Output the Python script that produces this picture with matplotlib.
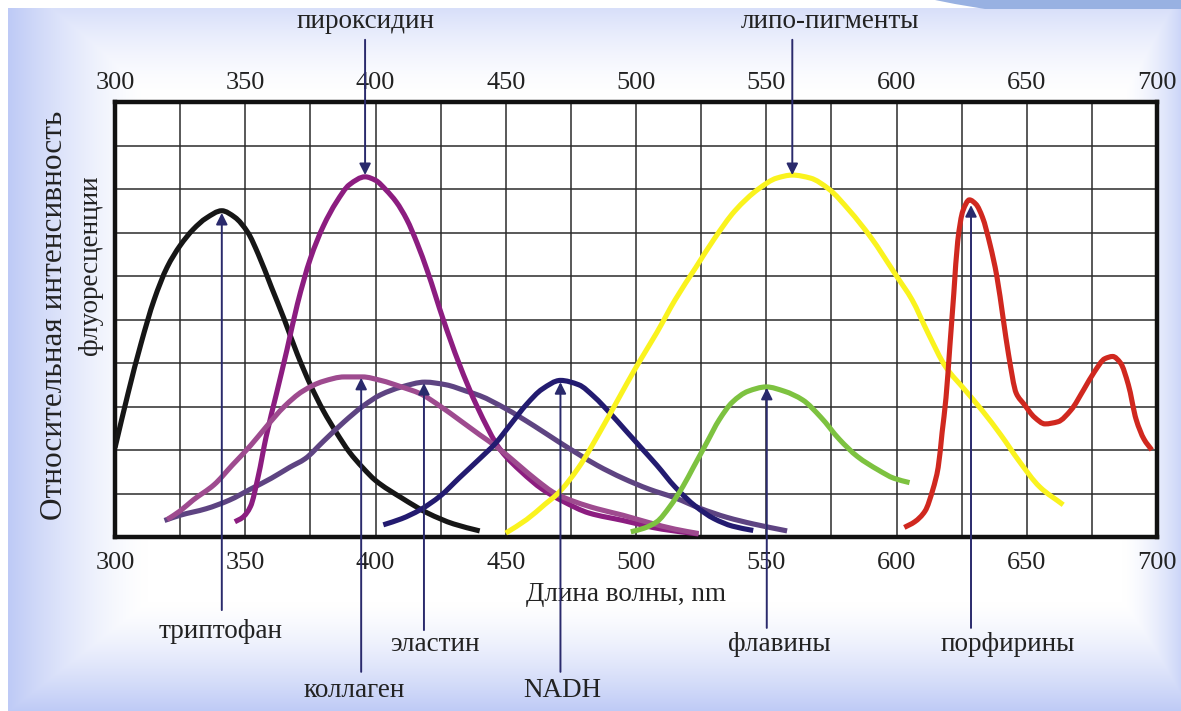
import numpy as np
import matplotlib
matplotlib.use("Agg")
import matplotlib.pyplot as plt
from matplotlib.patches import Polygon, PathPatch
from matplotlib.path import Path

plt.rcParams['font.family'] = ['Liberation Serif', 'DejaVu Serif']

# ---------------- data (wavelength nm, relative intensity in grid units) ----------------
trp_nm = [300, 305, 310, 315, 320, 325, 330, 335, 341, 346, 351, 355, 360, 365, 370,
          375, 380, 385, 390, 395, 400, 410, 420, 430, 440]
trp_val = [2.05, 3.3, 4.45, 5.45, 6.2, 6.7, 7.07, 7.33, 7.5, 7.35, 7.0, 6.5, 5.75, 5.0, 4.2,
           3.5, 2.9, 2.4, 1.95, 1.6, 1.3, 0.9, 0.55, 0.3, 0.14]

pyr_nm = [346, 349, 352, 355, 358, 362, 366, 370, 375, 380, 385, 390, 396, 400, 404, 408,
          412, 416, 420, 426, 432, 439, 448, 456, 464, 472, 482, 495, 510, 524]
pyr_val = [0.35, 0.45, 0.7, 1.4, 2.3, 3.3, 4.3, 5.35, 6.4, 7.15, 7.7, 8.1, 8.28, 8.2, 7.98, 7.7,
           7.3, 6.75, 6.1, 5.0, 4.0, 3.0, 2.0, 1.5, 1.1, 0.82, 0.55, 0.38, 0.18, 0.07]

col_nm = [320, 325, 330, 338, 345, 352, 358, 365, 372, 380, 388, 395, 402, 410, 417, 425,
          432, 440, 447, 455, 462, 469, 477, 485, 495, 505, 515, 524]
col_val = [0.4, 0.6, 0.85, 1.2, 1.65, 2.1, 2.53, 3.0, 3.35, 3.58, 3.68, 3.68, 3.6, 3.45, 3.3, 3.0,
           2.7, 2.35, 2.05, 1.65, 1.3, 1.0, 0.8, 0.65, 0.5, 0.33, 0.18, 0.08]

ela_nm = [319, 325, 335, 344, 352, 360, 367, 373, 380, 388, 395, 402, 410, 419, 427, 435,
          440, 450, 461, 470, 478, 485, 495, 505, 515, 525, 535, 545, 558]
ela_val = [0.38, 0.5, 0.65, 0.85, 1.1, 1.35, 1.6, 1.8, 2.2, 2.65, 3.0, 3.27, 3.45, 3.56, 3.5, 3.35,
           3.25, 2.95, 2.55, 2.2, 1.9, 1.65, 1.35, 1.1, 0.9, 0.65, 0.45, 0.3, 0.14]

nadh_nm = [403, 410, 417, 425, 432, 440, 446, 452, 458, 464, 471, 478, 484, 490, 496, 502,
           508, 515, 523, 530, 537, 545]
nadh_val = [0.28, 0.42, 0.62, 0.95, 1.35, 1.8, 2.15, 2.6, 3.05, 3.4, 3.6, 3.5, 3.22, 2.85, 2.45, 2.05,
            1.65, 1.15, 0.7, 0.42, 0.25, 0.15]

lip_nm = [450, 458, 465, 470, 478, 486, 493, 500, 508, 515, 523, 530, 538, 547, 554, 560,
          567, 574, 582, 590, 600, 606, 612, 619, 626, 633, 640, 647, 655, 664]
lip_val = [0.09, 0.4, 0.75, 1.0, 1.6, 2.4, 3.15, 3.9, 4.7, 5.45, 6.2, 6.85, 7.5, 8.0, 8.25, 8.32,
           8.25, 8.0, 7.5, 6.9, 6.0, 5.45, 4.7, 3.9, 3.4, 2.9, 2.35, 1.75, 1.15, 0.74]

fla_nm = [498, 503, 508, 513, 518, 522, 527, 532, 537, 543, 550, 557, 564, 571, 578, 585,
          593, 599, 605]
fla_val = [0.12, 0.2, 0.35, 0.7, 1.16, 1.6, 2.15, 2.7, 3.1, 3.35, 3.45, 3.35, 3.15, 2.75, 2.25, 1.85,
           1.54, 1.35, 1.25]

por_nm = [603, 607, 611, 614, 616, 617.5, 619, 620.5, 622, 623.5, 625.5, 628, 630.5, 633, 636,
          638.5, 641, 643, 646, 649, 653, 657, 662, 667, 672, 676, 680, 683, 686, 689, 692,
          695, 698]
por_val = [0.22, 0.35, 0.6, 1.1, 1.6, 2.4, 3.2, 4.4, 5.6, 6.8, 7.5, 7.75, 7.65, 7.35, 6.7,
           6.0, 5.0, 4.2, 3.3, 3.05, 2.75, 2.6, 2.65, 2.92, 3.4, 3.8, 4.1, 4.15, 4.0, 3.5, 2.7,
           2.25, 2.0]

x_ticks = [300, 350, 400, 450, 500, 550, 600, 650, 700]

# labels: (text, arrow x nm, arrow tail y, arrow tip y, text x nm, text y)
labels_below = [
    ("триптофан", 341, -1.68, 7.45, 340.7, -2.18),
    ("коллаген", 394.5, -3.1, 3.66, 392, -3.52),
    ("эластин", 418.6, -2.14, 3.54, 422.8, -2.48),
    ("NADH", 471, -3.1, 3.56, 471.6, -3.52),
    ("флавины", 550.2, -2.09, 3.43, 555, -2.48),
    ("порфирины", 628.6, -2.09, 7.63, 642.8, -2.48),
]
labels_above = [
    ("пироксидин", 396, 11.43, 8.32, 396, 11.84),
    ("липо-пигменты", 560, 11.43, 8.32, 574.5, 11.84),
]


def smooth_path(xs, ys):
    """Monotone cubic Hermite curve through the read points, as Bezier segments."""
    x = np.asarray(xs, float)
    y = np.asarray(ys, float)
    h = np.diff(x)
    d = np.diff(y) / h
    n = len(x)
    m = np.zeros(n)
    m[0], m[-1] = d[0], d[-1]
    for i in range(1, n - 1):
        if d[i - 1] * d[i] <= 0:
            m[i] = 0.0
        else:
            w1 = 2 * h[i] + h[i - 1]
            w2 = h[i] + 2 * h[i - 1]
            m[i] = (w1 + w2) / (w1 / d[i - 1] + w2 / d[i])
    verts = [(x[0], y[0])]
    codes = [Path.MOVETO]
    for i in range(n - 1):
        verts += [(x[i] + h[i] / 3, y[i] + m[i] * h[i] / 3),
                  (x[i + 1] - h[i] / 3, y[i + 1] - m[i + 1] * h[i] / 3),
                  (x[i + 1], y[i + 1])]
        codes += [Path.CURVE4] * 3
    return Path(verts, codes)


# ---------------- figure & background ----------------
W, H = 1181, 711
fig = plt.figure(figsize=(W / 100, H / 100), dpi=100)

bg = fig.add_axes([0, 0, 1, 1])
bg.set_axis_off()
xx, yy = np.meshgrid(np.arange(W), np.arange(H))
wl = np.clip(1 - (xx - 8) / 140.0, 0, 1) ** 1.4
wr = np.clip(1 - (W - xx) / 60.0, 0, 1) ** 1.6 * 0.8
wt = np.clip(1 - (yy - 8) / 90.0, 0, 1) ** 1.6 * 0.6
wb = np.clip(1 - (H - yy) / 110.0, 0, 1) ** 1.4
w = np.maximum.reduce([wl, wr, wt, wb])
blue = np.array([190, 202, 246]) / 255.0
img = (1 - w[..., None]) * 1.0 + w[..., None] * blue[None, None, :]
mask = (xx < 8) | (yy < 8)
img[mask] = 1.0
bg.imshow(img, extent=[0, W, H, 0], aspect='auto', interpolation='bilinear')
bg.set_xlim(0, W)
bg.set_ylim(H, 0)
swoosh = Polygon([(935, 0), (W, 0), (W, 9), (985, 9), (955, 4)], closed=True,
                 facecolor='#98B1E2', edgecolor='none')
bg.add_patch(swoosh)

# ---------------- main axes ----------------
left, right, top, bottom = 115, 1157, 102, 537
ax = fig.add_axes([left / W, 1 - bottom / H, (right - left) / W, (bottom - top) / H])
ax.set_facecolor('white')
ax.set_xlim(300, 700)
ax.set_ylim(0, 10)

ax.set_xticks(x_ticks)
ax.set_xticks(np.arange(325, 700, 50), minor=True)
ax.set_yticks(np.arange(0, 11, 1))
ax.set_yticklabels([])
ax.tick_params(axis='both', which='both', length=0)
ax.tick_params(axis='x', labelsize=19, pad=11, colors='#222222')
ax.grid(True, which='both', axis='x', color='#2b2b2b', linewidth=1.1)
ax.grid(True, which='major', axis='y', color='#2b2b2b', linewidth=1.1)
ax.set_axisbelow(True)
for s in ax.spines.values():
    s.set_linewidth(3.2)
    s.set_color('#111111')

sec = ax.secondary_xaxis('top')
sec.set_xticks(x_ticks)
sec.tick_params(length=0, labelsize=19, pad=6, colors='#222222')
sec.spines['top'].set_visible(False)

lw = 3.7
series = [
    (trp_nm, trp_val, '#161616'),
    (ela_nm, ela_val, '#5E4482'),
    (pyr_nm, pyr_val, '#8C1D80'),
    (col_nm, col_val, '#9E4B8F'),
    (nadh_nm, nadh_val, '#231B70'),
    (lip_nm, lip_val, '#FAF31E'),
    (fla_nm, fla_val, '#7DC240'),
    (por_nm, por_val, '#D0281F'),
]
for xs, ys, c in series:
    patch = PathPatch(smooth_path(xs, ys), facecolor='none', edgecolor=c, lw=lw,
                      capstyle='butt', joinstyle='round', zorder=3)
    ax.add_patch(patch)

arrow_color = '#2A2A6C'
for txt, ax_x, y0, y1, tx, ty in labels_below + labels_above:
    ax.annotate('', xy=(ax_x, y1), xytext=(ax_x, y0), annotation_clip=False,
                arrowprops=dict(arrowstyle='-|>', color=arrow_color, lw=1.4,
                                mutation_scale=17, shrinkA=0, shrinkB=0),
                zorder=5)
    ax.text(tx, ty, txt, ha='center', va='center', fontsize=19.5, color='#222222',
            clip_on=False)

ax.text(496, -1.33, "Длина волны, nm", ha='center', va='center', fontsize=19.5,
        color='#222222', clip_on=False)

fig.text(55 / W, 1 - 315 / H, "Относительная интенсивность", rotation=90,
         ha='center', va='center', fontsize=22.5, color='#222222')
fig.text(90 / W, 1 - 265 / H, "флуоресценции", rotation=90,
         ha='center', va='center', fontsize=19.5, color='#222222')

fig.savefig("out.png", dpi=100)
